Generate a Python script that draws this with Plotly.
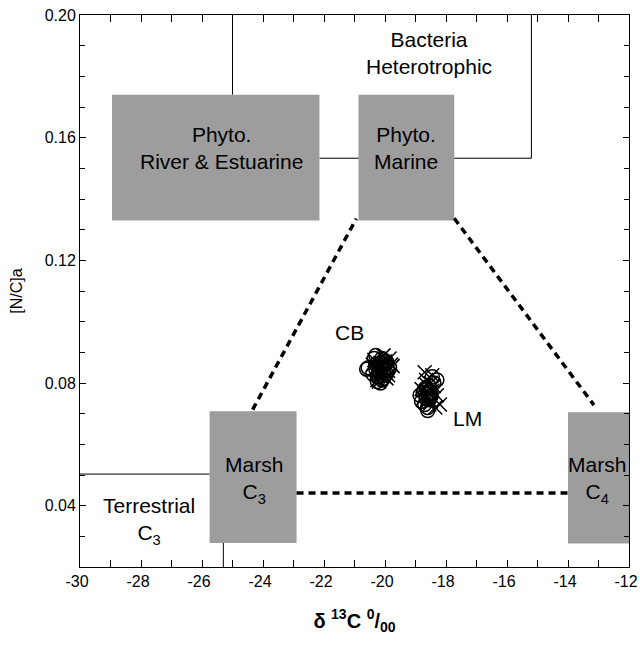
import plotly.graph_objects as go

# ---- data ----
box_names = ["Phyto. River & Estuarine", "Phyto. Marine", "Marsh C3", "Marsh C4"]
box_x0 = [-28.95, -20.87, -25.75, -14.0]
box_x1 = [-22.15, -17.73, -22.9, -12.0]
box_y0 = [0.133, 0.133, 0.0278, 0.0277]
box_y1 = [0.174, 0.174, 0.0708, 0.0705]

cb_circ_x = [-20.3, -20.1, -19.9, -20.4, -20.2, -20.0, -19.85, -20.55, -20.1, -20.3, -19.95, -20.2, -20.0, -20.6, -20.15,
             -19.95, -20.25, -20.15, -20.35, -20.05, -20.2, -20.1, -20.3, -20.0, -20.15, -20.25]
cb_circ_y = [0.086, 0.088, 0.084, 0.083, 0.082, 0.087, 0.085, 0.085, 0.081, 0.089, 0.083, 0.084, 0.086, 0.0845, 0.080,
             0.087, 0.082, 0.085, 0.088, 0.0815, 0.0835, 0.0855, 0.0845, 0.0825, 0.0865, 0.0805]
cb_x_x = [-20.2, -20.0, -19.8, -20.3, -20.1, -19.9, -20.4, -20.05, -20.25, -19.85, -20.15, -19.95, -20.35, -20.1, -19.75,
          -20.2, -20.05, -20.25, -20.15, -19.9, -20.3, -20.0]
cb_x_y = [0.085, 0.087, 0.086, 0.083, 0.0825, 0.084, 0.086, 0.089, 0.081, 0.088, 0.0835, 0.0815, 0.0875, 0.085, 0.0855,
          0.0805, 0.0845, 0.0855, 0.0865, 0.0825, 0.0845, 0.0835]

lm_circ_x = [-18.7, -18.5, -18.8, -18.4, -18.6, -18.75, -18.45, -18.65, -18.55, -18.85, -18.3, -18.6, -18.7, -18.5,
             -18.6, -18.55, -18.65, -18.5]
lm_circ_y = [0.078, 0.076, 0.074, 0.080, 0.072, 0.077, 0.082, 0.075, 0.079, 0.076, 0.081, 0.071, 0.073, 0.077,
             0.0765, 0.0745, 0.0785, 0.0755]
lm_x_x = [-18.6, -18.4, -18.75, -18.5, -18.3, -18.65, -18.55, -18.8, -18.45, -18.7, -18.35, -18.6, -18.5, -18.2,
          -18.55, -18.65, -18.45, -18.6]
lm_x_y = [0.077, 0.079, 0.075, 0.074, 0.076, 0.081, 0.073, 0.078, 0.0825, 0.0835, 0.072, 0.0745, 0.08, 0.073,
          0.0765, 0.0795, 0.0775, 0.0755]

# mixing dashed lines
dash_left_x = [-24.34, -20.94]
dash_left_y = [0.0713, 0.1336]
dash_right_x = [-17.73, -13.15]
dash_right_y = [0.1337, 0.0728]
dash_bottom_x = [-22.9, -14.0]
dash_bottom_y = [0.0441, 0.0441]

# bracket lines (solid)
bact_left_x = [-25.0, -25.0]
bact_left_y = [0.20, 0.174]
bact_right_x = [-22.15, -15.2, -15.2]
bact_right_y = [0.1533, 0.1533, 0.20]
terr_h_x = [-30, -25.75]
terr_h_y = [0.0503, 0.0503]
terr_v_x = [-25.3, -25.3]
terr_v_y = [0.02, 0.03]

x_tickvals = [-30, -28, -26, -24, -22, -20, -18, -16, -14, -12]
x_ticktext = ["-30", "-28", "-26", "-24", "-22", "-20", "-18", "-16", "-14", "-12"]
y_tickvals = [0.04, 0.08, 0.12, 0.16, 0.20]
y_ticktext = ["0.04", "0.08", "0.12", "0.16", "0.20"]

GRAY = "#9d9d9d"
FONT = "Liberation Sans, Arial, sans-serif"

fig = go.Figure()

# solid bracket lines
for xs, ys in [(bact_left_x, bact_left_y), (bact_right_x, bact_right_y),
               (terr_h_x, terr_h_y), (terr_v_x, terr_v_y)]:
    fig.add_trace(go.Scatter(x=xs, y=ys, mode="lines",
                             line=dict(color="black", width=1),
                             hoverinfo="skip", showlegend=False))

# boxes as filled traces
for n, x0, x1, y0, y1 in zip(box_names, box_x0, box_x1, box_y0, box_y1):
    fig.add_trace(go.Scatter(x=[x0, x1, x1, x0, x0], y=[y0, y0, y1, y1, y0],
                             mode="lines", fill="toself", fillcolor=GRAY,
                             line=dict(width=0, color=GRAY), name=n,
                             showlegend=False, hoverinfo="skip"))

# dashed lines
for xs, ys in [(dash_left_x, dash_left_y), (dash_right_x, dash_right_y),
               (dash_bottom_x, dash_bottom_y)]:
    fig.add_trace(go.Scatter(x=xs, y=ys, mode="lines",
                             line=dict(color="black", width=3.5, dash="7px,5px"),
                             hoverinfo="skip", showlegend=False))

# data points
for xs, ys, sym in [(cb_circ_x, cb_circ_y, "circle-open"), (cb_x_x, cb_x_y, "x-thin-open"),
                    (lm_circ_x, lm_circ_y, "circle-open"), (lm_x_x, lm_x_y, "x-thin-open")]:
    fig.add_trace(go.Scatter(x=xs, y=ys, mode="markers",
                             marker=dict(symbol=sym, size=14, color="black",
                                         line=dict(width=1.5, color="black")),
                             showlegend=False))

ann = [
    (-18.55, 0.1875, "Bacteria<br>Heterotrophic"),
    (-25.35, 0.1565, "Phyto.<br>River &amp; Estuarine"),
    (-19.3, 0.1565, "Phyto.<br>Marine"),
    (-24.3, 0.0485, "Marsh<br>C<sub>3</sub>"),
    (-13.05, 0.0485, "Marsh<br>C<sub>4</sub>"),
    (-27.75, 0.0350, "Terrestrial<br>C<sub>3</sub>"),
    (-21.16, 0.0966, "CB"),
    (-17.3, 0.0685, "LM"),
]
for x, y, t in ann:
    fig.add_annotation(x=x, y=y, text=t, showarrow=False,
                       font=dict(size=21, color="black", family=FONT))

fig.update_layout(
    width=640, height=646,
    margin=dict(l=80, r=11, t=15, b=79),
    plot_bgcolor="white", paper_bgcolor="white",
    font=dict(family=FONT, size=16, color="black"),
    xaxis=dict(range=[-30, -12], tickmode="array",
               tickvals=x_tickvals, ticktext=x_ticktext,
               ticks="inside", ticklen=7, tickcolor="black",
               showline=True, linecolor="black", linewidth=1, mirror="ticks",
               showgrid=False, zeroline=False, automargin=False,
               tickfont=dict(size=16), ticklabeloverflow="allow", ticklabelshift=-3,
               minor=dict(dtick=1, ticks="inside", ticklen=7, tickcolor="black"),
               title=dict(text="<b>δ <sup>13</sup>C <sup>0</sup>/<sub>00</sub></b>",
                          font=dict(size=20), standoff=24)),
    yaxis=dict(range=[0.02, 0.20], tickmode="array",
               tickvals=y_tickvals, ticktext=y_ticktext,
               ticks="inside", ticklen=6, tickcolor="black",
               showline=True, linecolor="black", linewidth=1, mirror="ticks",
               showgrid=False, zeroline=False, automargin=False,
               tickfont=dict(size=16), ticklabeloverflow="allow",
               minor=dict(dtick=0.01, tick0=0.0, ticks="inside", ticklen=5, tickcolor="black"),
               title=dict(text="[N/C]a", font=dict(size=16), standoff=18)),
)

fig.write_html("out.html", config={"displayModeBar": False},
               post_script="document.body.style.margin='0';document.body.style.overflow='hidden';")
